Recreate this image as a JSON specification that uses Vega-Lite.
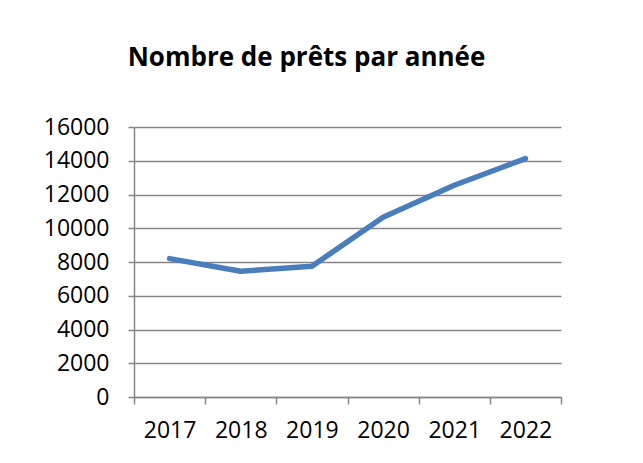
{
  "$schema": "https://vega.github.io/schema/vega-lite/v6.json",
  "width": 427,
  "height": 270,
  "padding": {"left": 43, "top": 45, "right": 10, "bottom": 10},
  "background": "white",
  "title": {
    "text": "Nombre de prêts par année",
    "font": "Open Sans",
    "fontSize": 26,
    "fontWeight": "bold",
    "color": "#000000",
    "anchor": "middle",
    "dx": -41,
    "offset": 45
  },
  "config": {
    "view": {"stroke": null},
    "axis": {
      "labelFont": "Open Sans",
      "labelFontSize": 23,
      "labelColor": "#000000",
      "domainColor": "#868686",
      "tickColor": "#868686",
      "gridColor": "#868686",
      "domainWidth": 1.5,
      "tickWidth": 1.5,
      "gridWidth": 1.5
    }
  },
  "data": {
    "values": [
      {"annee": "2017", "prets": 8200},
      {"annee": "2018", "prets": 7450},
      {"annee": "2019", "prets": 7750},
      {"annee": "2020", "prets": 10650},
      {"annee": "2021", "prets": 12550},
      {"annee": "2022", "prets": 14130}
    ]
  },
  "mark": {"type": "line", "color": "#4A7EBB", "strokeWidth": 5.5, "strokeCap": "round", "strokeJoin": "round"},
  "encoding": {
    "x": {
      "field": "annee",
      "type": "ordinal",
      "scale": {"type": "band", "paddingInner": 0, "paddingOuter": 0},
      "axis": {"title": null, "labelAngle": 0, "tickBand": "extent", "tickSize": 7, "labelPadding": 15, "grid": false}
    },
    "y": {
      "field": "prets",
      "type": "quantitative",
      "scale": {"domain": [0, 16000], "nice": false},
      "axis": {"title": null, "values": [0, 2000, 4000, 6000, 8000, 10000, 12000, 14000, 16000], "format": "d", "tickSize": 6, "labelPadding": 19, "grid": true, "domain": true}
    }
  }
}
